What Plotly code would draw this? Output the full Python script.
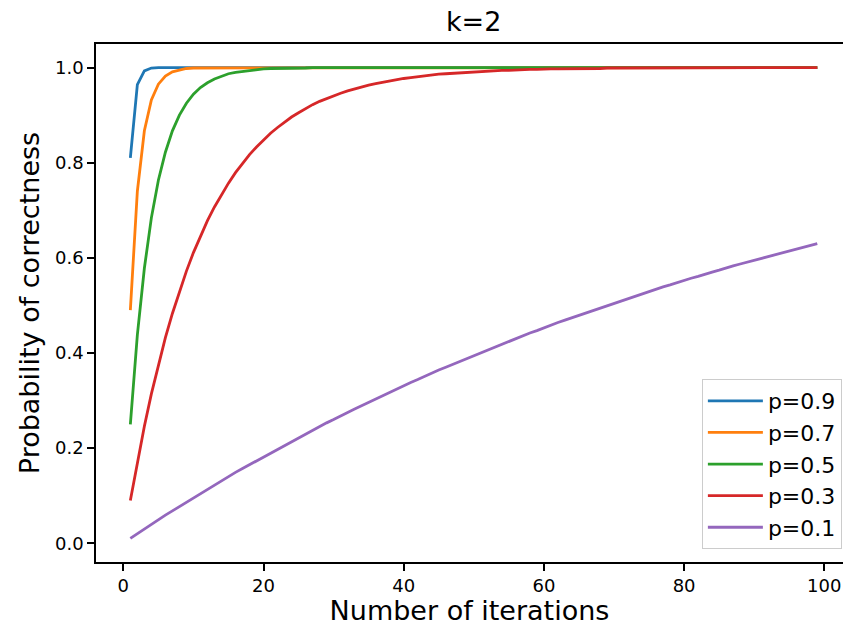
import plotly.graph_objects as go

iterations = list(range(1, 100))

p09 = [0.810, 0.964, 0.993, 0.999, 1.000, 1.000, 1.000, 1.000, 1.000, 1.000,
       1.000, 1.000, 1.000, 1.000, 1.000, 1.000, 1.000, 1.000, 1.000, 1.000,
       1.000, 1.000, 1.000, 1.000, 1.000, 1.000, 1.000, 1.000, 1.000, 1.000,
       1.000, 1.000, 1.000, 1.000, 1.000, 1.000, 1.000, 1.000, 1.000, 1.000,
       1.000, 1.000, 1.000, 1.000, 1.000, 1.000, 1.000, 1.000, 1.000, 1.000,
       1.000, 1.000, 1.000, 1.000, 1.000, 1.000, 1.000, 1.000, 1.000, 1.000,
       1.000, 1.000, 1.000, 1.000, 1.000, 1.000, 1.000, 1.000, 1.000, 1.000,
       1.000, 1.000, 1.000, 1.000, 1.000, 1.000, 1.000, 1.000, 1.000, 1.000,
       1.000, 1.000, 1.000, 1.000, 1.000, 1.000, 1.000, 1.000, 1.000, 1.000,
       1.000, 1.000, 1.000, 1.000, 1.000, 1.000, 1.000, 1.000, 1.000]

p07 = [0.490, 0.740, 0.867, 0.932, 0.965, 0.982, 0.991, 0.995, 0.998, 0.999,
       0.999, 1.000, 1.000, 1.000, 1.000, 1.000, 1.000, 1.000, 1.000, 1.000,
       1.000, 1.000, 1.000, 1.000, 1.000, 1.000, 1.000, 1.000, 1.000, 1.000,
       1.000, 1.000, 1.000, 1.000, 1.000, 1.000, 1.000, 1.000, 1.000, 1.000,
       1.000, 1.000, 1.000, 1.000, 1.000, 1.000, 1.000, 1.000, 1.000, 1.000,
       1.000, 1.000, 1.000, 1.000, 1.000, 1.000, 1.000, 1.000, 1.000, 1.000,
       1.000, 1.000, 1.000, 1.000, 1.000, 1.000, 1.000, 1.000, 1.000, 1.000,
       1.000, 1.000, 1.000, 1.000, 1.000, 1.000, 1.000, 1.000, 1.000, 1.000,
       1.000, 1.000, 1.000, 1.000, 1.000, 1.000, 1.000, 1.000, 1.000, 1.000,
       1.000, 1.000, 1.000, 1.000, 1.000, 1.000, 1.000, 1.000, 1.000]

p05 = [0.250, 0.438, 0.578, 0.684, 0.763, 0.822, 0.867, 0.900, 0.925, 0.944,
       0.958, 0.968, 0.976, 0.982, 0.987, 0.990, 0.992, 0.994, 0.996, 0.997,
       0.998, 0.998, 0.999, 0.999, 0.999, 0.999, 1.000, 1.000, 1.000, 1.000,
       1.000, 1.000, 1.000, 1.000, 1.000, 1.000, 1.000, 1.000, 1.000, 1.000,
       1.000, 1.000, 1.000, 1.000, 1.000, 1.000, 1.000, 1.000, 1.000, 1.000,
       1.000, 1.000, 1.000, 1.000, 1.000, 1.000, 1.000, 1.000, 1.000, 1.000,
       1.000, 1.000, 1.000, 1.000, 1.000, 1.000, 1.000, 1.000, 1.000, 1.000,
       1.000, 1.000, 1.000, 1.000, 1.000, 1.000, 1.000, 1.000, 1.000, 1.000,
       1.000, 1.000, 1.000, 1.000, 1.000, 1.000, 1.000, 1.000, 1.000, 1.000,
       1.000, 1.000, 1.000, 1.000, 1.000, 1.000, 1.000, 1.000, 1.000]

p03 = [0.090, 0.172, 0.246, 0.314, 0.376, 0.432, 0.483, 0.530, 0.572, 0.611,
       0.646, 0.678, 0.707, 0.733, 0.757, 0.779, 0.799, 0.817, 0.833, 0.848,
       0.862, 0.874, 0.886, 0.896, 0.905, 0.914, 0.922, 0.929, 0.935, 0.941,
       0.946, 0.951, 0.955, 0.960, 0.963, 0.966, 0.969, 0.972, 0.975, 0.977,
       0.979, 0.981, 0.983, 0.984, 0.986, 0.987, 0.988, 0.989, 0.990, 0.991,
       0.992, 0.993, 0.993, 0.994, 0.994, 0.995, 0.995, 0.996, 0.996, 0.997,
       0.997, 0.997, 0.997, 0.998, 0.998, 0.998, 0.998, 0.998, 0.999, 0.999,
       0.999, 0.999, 0.999, 0.999, 0.999, 0.999, 0.999, 0.999, 0.999, 0.999,
       1.000, 1.000, 1.000, 1.000, 1.000, 1.000, 1.000, 1.000, 1.000, 1.000,
       1.000, 1.000, 1.000, 1.000, 1.000, 1.000, 1.000, 1.000, 1.000]

p01 = [0.010, 0.020, 0.030, 0.039, 0.049, 0.059, 0.068, 0.077, 0.086, 0.096,
       0.105, 0.114, 0.122, 0.131, 0.140, 0.149, 0.157, 0.165, 0.174, 0.182,
       0.190, 0.198, 0.206, 0.214, 0.222, 0.230, 0.238, 0.245, 0.253, 0.260,
       0.268, 0.275, 0.282, 0.289, 0.297, 0.304, 0.311, 0.317, 0.324, 0.331,
       0.338, 0.344, 0.351, 0.357, 0.364, 0.370, 0.376, 0.383, 0.389, 0.395,
       0.401, 0.407, 0.413, 0.419, 0.425, 0.430, 0.436, 0.442, 0.447, 0.453,
       0.458, 0.464, 0.469, 0.474, 0.480, 0.485, 0.490, 0.495, 0.500, 0.505,
       0.510, 0.515, 0.520, 0.525, 0.529, 0.534, 0.539, 0.543, 0.548, 0.552,
       0.557, 0.561, 0.566, 0.570, 0.574, 0.579, 0.583, 0.587, 0.591, 0.595,
       0.599, 0.603, 0.607, 0.611, 0.615, 0.619, 0.623, 0.626, 0.630]

series_names = ["p=0.9", "p=0.7", "p=0.5", "p=0.3", "p=0.1"]
series_values = [p09, p07, p05, p03, p01]
colors = ["#1f77b4", "#ff7f0e", "#2ca02c", "#d62728", "#9467bd"]

x_ticks = [0, 20, 40, 60, 80, 100]
y_ticks = [0.0, 0.2, 0.4, 0.6, 0.8, 1.0]

FONT = "DejaVu Sans"

fig = go.Figure()
for name, vals, c in zip(series_names, series_values, colors):
    fig.add_trace(go.Scatter(x=iterations, y=vals, mode="lines", name=name,
                             line=dict(color=c, width=2.8)))

fig.update_layout(
    width=843, height=626,
    margin=dict(l=96, r=0, t=44, b=64),
    paper_bgcolor="white", plot_bgcolor="white",
    font=dict(family=FONT, color="black"),
    title=dict(text="k=2", x=0.5055, xref="paper", xanchor="center",
               y=1 - 22 / 626, yref="container", yanchor="middle",
               font=dict(size=27, family=FONT, color="black")),
    showlegend=True,
    legend=dict(x=0.9985, y=0.025, xanchor="right", yanchor="bottom",
                itemwidth=55,
                bgcolor="rgba(255,255,255,0.8)", bordercolor="#cccccc", borderwidth=1,
                font=dict(size=22, family=FONT, color="black")),
)

fig.update_xaxes(
    range=[-3.9, 102.67], tickmode="array", tickvals=x_ticks,
    ticktext=[str(t) for t in x_ticks], automargin=False,
    showgrid=False, zeroline=False, showline=True, linecolor="black", linewidth=1.5,
    mirror=True, ticks="outside", ticklen=7, tickwidth=1.5, tickcolor="black",
    tickfont=dict(size=18, family=FONT, color="black"),
    title=dict(text="Number of iterations", font=dict(size=27, family=FONT, color="black"), standoff=12),
)
fig.update_yaxes(
    range=[-0.0395, 1.0495], tickmode="array", tickvals=y_ticks,
    ticktext=[f"{t:.1f}" for t in y_ticks], automargin=False,
    showgrid=False, zeroline=False, showline=True, linecolor="black", linewidth=1.5,
    mirror=False, ticks="outside", ticklen=7, tickwidth=1.5, tickcolor="black",
    tickfont=dict(size=18, family=FONT, color="black"),
    title=dict(text="Probability of correctness", font=dict(size=27, family=FONT, color="black"), standoff=8),
)

fig.write_html("out.html")
